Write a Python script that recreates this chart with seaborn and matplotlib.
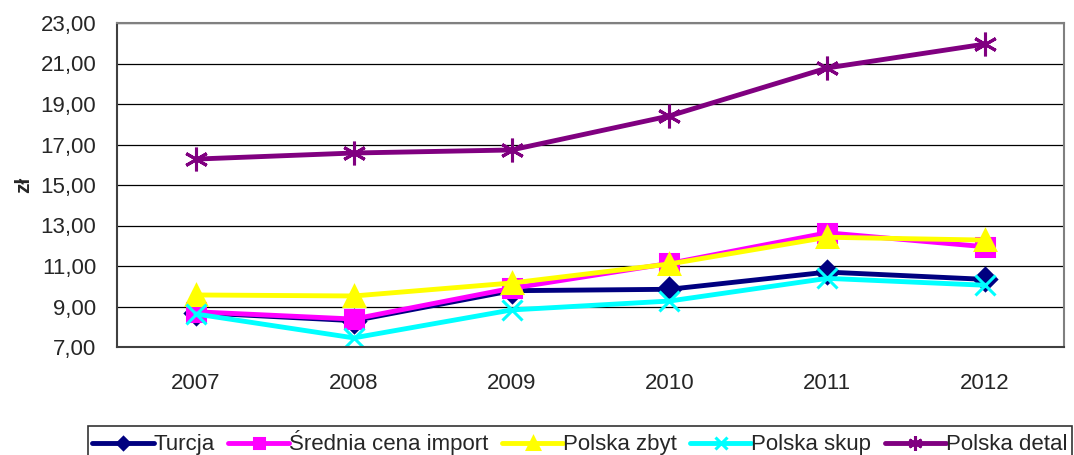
import numpy as np
import matplotlib
matplotlib.use("Agg")
import matplotlib.pyplot as plt
import pandas as pd
import seaborn as sns

years = ["2007", "2008", "2009", "2010", "2011", "2012"]
turcja = [8.70, 8.30, 9.78, 9.85, 10.70, 10.34]
srednia_import = [8.74, 8.38, 9.90, 11.13, 12.64, 11.95]
polska_zbyt = [9.57, 9.52, 10.16, 11.10, 12.42, 12.28]
polska_skup = [8.63, 7.45, 8.83, 9.27, 10.39, 10.05]
polska_detal = [16.28, 16.58, 16.73, 18.41, 20.78, 21.96]

series = {
    "Turcja": turcja,
    "Średnia cena import": srednia_import,
    "Polska zbyt": polska_zbyt,
    "Polska skup": polska_skup,
    "Polska detal": polska_detal,
}
colors = ["#000080", "#FF00FF", "#FFFF00", "#00FFFF", "#800080"]
markers = ["D", "s", "^", "x", (6, 2, 0)]
msizes = [11, 13, 15, 15, 17]

rows = []
for name, vals in series.items():
    for i, v in enumerate(vals):
        rows.append({"pos": i, "value": v, "series": name})
df = pd.DataFrame(rows)

sns.set_style("white")
plt.rcParams["font.family"] = ["Liberation Sans", "DejaVu Sans"]

fig = plt.figure(figsize=(10.74, 4.55), dpi=100)
ax = fig.add_axes([117 / 1074, 108 / 455, 947 / 1074, 324 / 455])

for (name, vals), c, m, ms in zip(series.items(), colors, markers, msizes):
    sub = df[df["series"] == name]
    sns.lineplot(data=sub, x="pos", y="value", ax=ax, color=c, linewidth=3.5,
                 marker=m, markersize=ms, markeredgecolor=c, markeredgewidth=2.2,
                 label=name, legend=False)

ax.set_xlim(-0.5, 5.5)
ax.set_ylim(7, 23)
ax.set_yticks(np.arange(7, 24, 2))
ax.set_yticklabels([f"{v:.2f}".replace(".", ",") for v in np.arange(7, 24, 2)])
ax.set_xticks(range(len(years)))
ax.set_xticklabels(years)
ax.set_xticks(np.arange(-0.5, 5.6, 1), minor=True)
ax.tick_params(axis="x", which="major", length=0, pad=19, labelsize=16)
ax.tick_params(axis="x", which="minor", length=7, width=1, direction="out", color="black")
ax.tick_params(axis="y", length=7, width=1, direction="out", color="black", pad=8, labelsize=16)
ax.grid(axis="y", color="black", linewidth=0.9)
ax.set_axisbelow(True)

for side in ["top", "right"]:
    ax.spines[side].set_color("#808080")
    ax.spines[side].set_linewidth(1.5)
for side in ["left", "bottom"]:
    ax.spines[side].set_color("#404040")
    ax.spines[side].set_linewidth(1.5)

ax.set_xlabel("")
ax.set_ylabel("zł", fontsize=15, fontweight="bold", labelpad=5)

handles, labels = ax.get_legend_handles_labels()
leg = fig.legend(handles, labels, loc="upper left", bbox_to_anchor=(88 / 1074, 1 - 426 / 455),
                 ncol=5, fontsize=16, frameon=True, fancybox=False, edgecolor="black",
                 handlelength=2.75, handletextpad=0.0, columnspacing=0.6, borderpad=0.2,
                 borderaxespad=0, markerscale=0.6)
leg.get_frame().set_linewidth(1.2)

fig.savefig("out.png", dpi=100)
